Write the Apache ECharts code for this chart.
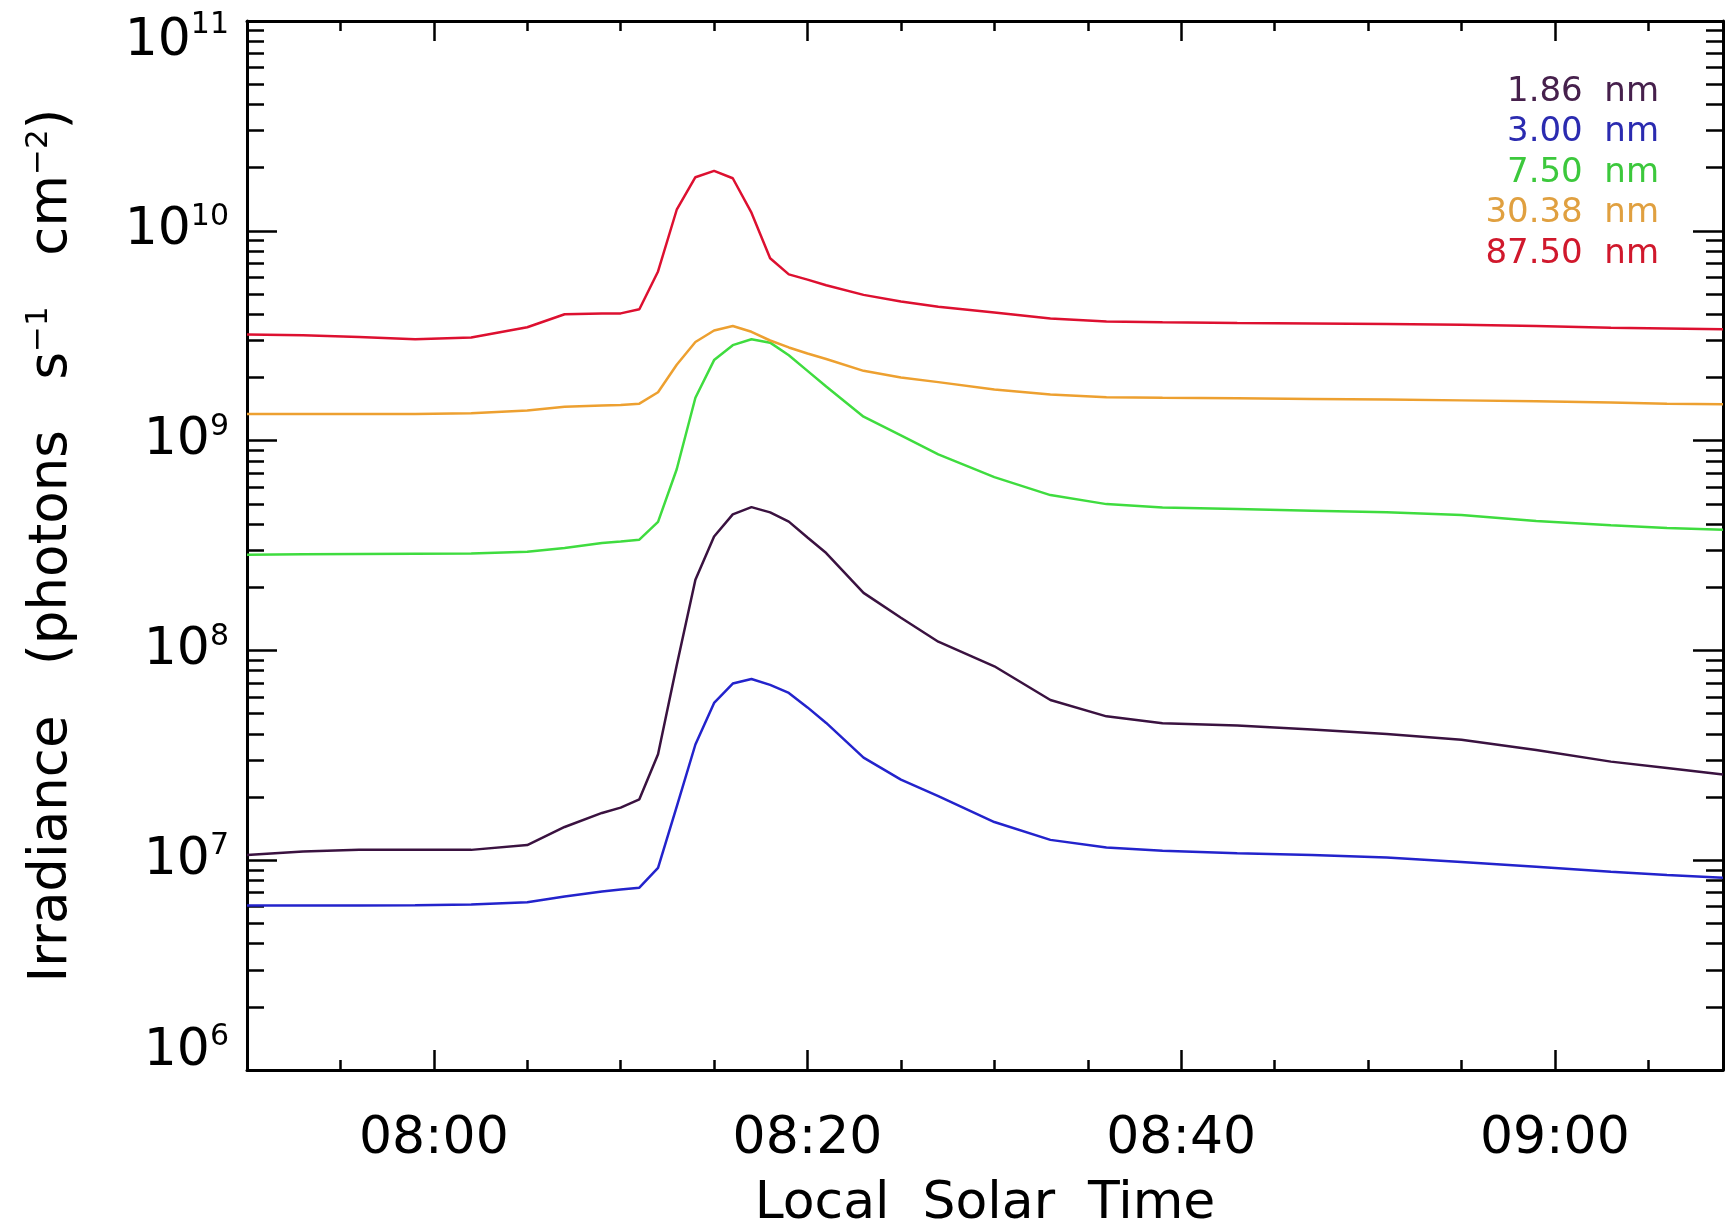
<!DOCTYPE html>
<html>
<head>
<meta charset="utf-8">
<script src="https://cdn.jsdelivr.net/npm/echarts@6/dist/echarts.min.js"></script>
<style>
html, body { margin: 0; padding: 0; background: #ffffff; }
#chart { width: 1730px; height: 1227px; }
</style>
</head>
<body>
<div id="chart"></div>
<script>
// ---- data (time in minutes since midnight, local solar time) ----
const times = [470, 473, 476, 479, 482, 485, 487, 489, 490, 491, 492, 493, 494, 495, 496, 497, 498, 499, 500, 501, 503, 505, 507, 510, 513, 516, 519, 523, 527, 531, 535, 539, 543, 546, 549];

const irr_1_86 = [1.06e7, 1.10e7, 1.12e7, 1.12e7, 1.12e7, 1.18e7, 1.44e7, 1.68e7, 1.78e7, 1.95e7, 3.2e7, 8.5e7, 2.17e8, 3.49e8, 4.45e8, 4.82e8, 4.55e8, 4.11e8, 3.45e8, 2.91e8, 1.88e8, 1.43e8, 1.10e8, 8.4e7, 5.8e7, 4.85e7, 4.5e7, 4.38e7, 4.2e7, 4.0e7, 3.75e7, 3.35e7, 2.95e7, 2.75e7, 2.56e7];
const irr_3_00 = [6.08e6, 6.08e6, 6.09e6, 6.1e6, 6.15e6, 6.3e6, 6.72e6, 7.1e6, 7.25e6, 7.4e6, 9.2e6, 1.8e7, 3.56e7, 5.62e7, 6.95e7, 7.31e7, 6.85e7, 6.27e7, 5.35e7, 4.51e7, 3.08e7, 2.42e7, 2.02e7, 1.52e7, 1.25e7, 1.15e7, 1.11e7, 1.08e7, 1.06e7, 1.03e7, 9.8e6, 9.3e6, 8.8e6, 8.5e6, 8.25e6];
const irr_7_50 = [2.86e8, 2.87e8, 2.88e8, 2.89e8, 2.9e8, 2.95e8, 3.08e8, 3.25e8, 3.3e8, 3.37e8, 4.1e8, 7.3e8, 1.6e9, 2.42e9, 2.85e9, 3.04e9, 2.93e9, 2.55e9, 2.15e9, 1.81e9, 1.30e9, 1.06e9, 8.6e8, 6.7e8, 5.5e8, 4.98e8, 4.8e8, 4.72e8, 4.63e8, 4.55e8, 4.42e8, 4.14e8, 3.95e8, 3.83e8, 3.76e8];
const irr_30_38 = [1.34e9, 1.34e9, 1.34e9, 1.34e9, 1.35e9, 1.39e9, 1.45e9, 1.47e9, 1.48e9, 1.50e9, 1.70e9, 2.3e9, 2.95e9, 3.35e9, 3.52e9, 3.3e9, 3.0e9, 2.78e9, 2.6e9, 2.45e9, 2.15e9, 2.0e9, 1.9e9, 1.75e9, 1.66e9, 1.61e9, 1.6e9, 1.59e9, 1.58e9, 1.57e9, 1.555e9, 1.54e9, 1.52e9, 1.5e9, 1.49e9];
const irr_87_50 = [3.2e9, 3.18e9, 3.12e9, 3.04e9, 3.1e9, 3.47e9, 4.0e9, 4.04e9, 4.04e9, 4.23e9, 6.4e9, 1.26e10, 1.80e10, 1.93e10, 1.78e10, 1.22e10, 7.4e9, 6.2e9, 5.85e9, 5.5e9, 4.95e9, 4.6e9, 4.35e9, 4.08e9, 3.82e9, 3.7e9, 3.67e9, 3.64e9, 3.62e9, 3.6e9, 3.57e9, 3.52e9, 3.45e9, 3.42e9, 3.39e9];

const seriesNames = ['1.86 nm', '3.00 nm', '7.50 nm', '30.38 nm', '87.50 nm'];
const seriesValues = [irr_1_86, irr_3_00, irr_7_50, irr_30_38, irr_87_50];
const lineColors = ['#3a1240', '#2323cc', '#3fdc3f', '#eda030', '#dd1030'];
const textColors = ['#46204c', '#2b2bb0', '#3cc83c', '#e0a040', '#d0182c'];

// ---- axes ----
const xMin = 470, xMax = 549;
const xMajorTicks = [480, 500, 520, 540];
const xMinorTicks = [475, 485, 490, 495, 505, 510, 515, 525, 530, 535, 545];
const yMin = 1e6, yMax = 1e11;
const yMinorTicks = [];
for (let e = 6; e < 11; e++) for (let k = 2; k <= 9; k++) yMinorTicks.push(k * Math.pow(10, e));

const FONT = 'DejaVu Sans';

function fmtTime(v) {
  const h = Math.floor(v / 60), m = Math.round(v % 60);
  return String(h).padStart(2, '0') + ':' + String(m).padStart(2, '0');
}
function fmtPow(v) {
  const e = Math.round(Math.log10(v));
  if (e === 6) return '{b6|10}{s6|' + e + '}';
  if (e === 11) return '{b11|10}{s11|' + e + '}';
  return '{b|10}{s|' + e + '}';
}

const axisLineStyle = { color: '#000', width: 3 };
const tickStyle = { color: '#000', width: 2.5 };

function xAxisDef(pos, major) {
  return {
    type: 'value', min: xMin, max: xMax, position: pos,
    axisLine: { show: major, lineStyle: axisLineStyle },
    axisTick: { show: true, inside: true, length: major ? 20 : 10, lineStyle: tickStyle, customValues: major ? xMajorTicks : xMinorTicks },
    axisLabel: (major && pos === 'bottom') ? {
      show: true, customValues: xMajorTicks, formatter: fmtTime,
      fontFamily: FONT, fontSize: 52, color: '#000', margin: 43
    } : { show: false },
    splitLine: { show: false },
    name: (major && pos === 'bottom') ? 'Local  Solar  Time' : '',
    nameLocation: 'middle', nameGap: 108,
    nameTextStyle: { fontFamily: FONT, fontSize: 52, color: '#000' }
  };
}
function yAxisDef(pos, major) {
  const base = {
    type: 'log', logBase: 10, min: yMin, max: yMax, position: pos,
    axisLine: { show: major, lineStyle: axisLineStyle },
    splitLine: { show: false },
    minorTick: { show: false }, minorSplitLine: { show: false }
  };
  if (major) {
    base.interval = 1;
    base.axisTick = { show: true, inside: true, length: 30, lineStyle: tickStyle };
  } else {
    base.axisTick = { show: true, inside: true, length: 17, lineStyle: tickStyle, customValues: yMinorTicks };
  }
  if (major && pos === 'left') {
    base.axisLabel = {
      show: true, formatter: fmtPow, margin: 18, color: '#000', fontFamily: FONT,
      rich: {
        b: { fontSize: 52, fontFamily: FONT, color: '#000' },
        s: { fontSize: 30, fontFamily: FONT, color: '#000', verticalAlign: 'bottom', padding: [0, 0, 27, 0] },
        b6: { fontSize: 52, fontFamily: FONT, color: '#000', padding: [0, 0, 38, 0] },
        s6: { fontSize: 30, fontFamily: FONT, color: '#000', verticalAlign: 'bottom', padding: [0, 0, 65, 0] },
        b11: { fontSize: 52, fontFamily: FONT, color: '#000', padding: [40, 0, 0, 0] },
        s11: { fontSize: 30, fontFamily: FONT, color: '#000', verticalAlign: 'bottom', padding: [0, 0, 27, 0] }
      }
    };
    base.name = 'Irradiance   (photons   s{sup|\u22121}   cm{sup|\u22122})';
    base.nameLocation = 'middle';
    base.nameGap = 166;
    base.nameTextStyle = {
      fontFamily: FONT, fontSize: 53, color: '#000',
      rich: { sup: { fontSize: 31, fontFamily: FONT, color: '#000', verticalAlign: 'bottom', padding: [0, 0, 27, 0] } }
    };
  } else {
    base.axisLabel = { show: false };
  }
  return base;
}

const chart = echarts.init(document.getElementById('chart'), null, { renderer: 'canvas' });
chart.setOption({
  backgroundColor: '#ffffff',
  animation: false,
  grid: { left: 247, right: 7, top: 21, bottom: 157, containLabel: false, outerBoundsMode: 'none' },
  xAxis: [xAxisDef('bottom', true), xAxisDef('bottom', false), xAxisDef('top', true), xAxisDef('top', false)],
  yAxis: [yAxisDef('left', true), yAxisDef('left', false), yAxisDef('right', true), yAxisDef('right', false)],
  series: seriesNames.map((name, i) => ({
    name: name, type: 'line', xAxisIndex: 0, yAxisIndex: 0,
    data: times.map((t, j) => [t, seriesValues[i][j]]),
    showSymbol: false, symbol: 'none', smooth: false,
    lineStyle: { color: lineColors[i], width: 2.5 },
    itemStyle: { color: lineColors[i] }
  })),
  graphic: seriesNames.map((name, i) => ({
    type: 'text', right: 1730 - 1659, top: 75 + i * 40.5,
    style: { text: name.replace(' ', '  '), fill: textColors[i], font: '34px "' + FONT + '"', textAlign: 'right' }
  }))
});
</script>
</body>
</html>
